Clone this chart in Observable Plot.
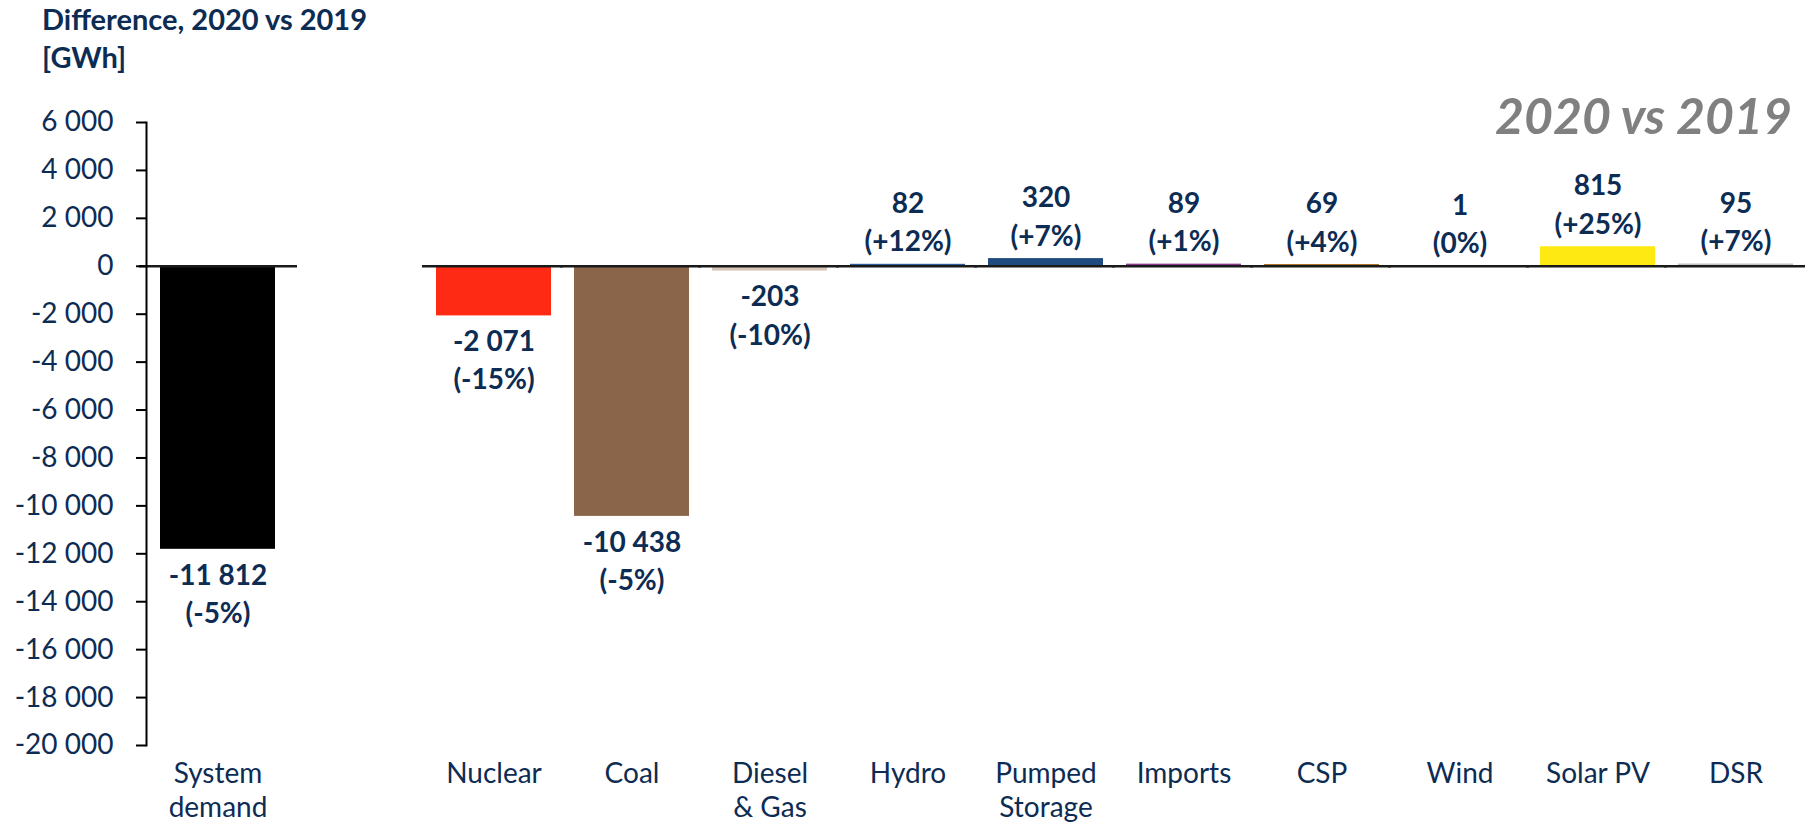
<!DOCTYPE html>
<html>
<head>
<meta charset="utf-8">
<script src="https://cdn.jsdelivr.net/npm/d3@7"></script>
<script src="https://cdn.jsdelivr.net/npm/@observablehq/plot@0.6"></script>
<style>
  html, body { margin: 0; padding: 0; background: #fff; }
  #wrap { position: relative; width: 1808px; height: 829px; overflow: hidden; font-family: Lato, "Open Sans", sans-serif; }
  #title { padding-left: 42px; height: 76px; font-size: 29px; line-height: 38px; font-weight: 700; color: #0d2c54; }
  #badge { position: absolute; right: 16px; top: 90px; font-size: 50px; line-height: 50px; font-weight: 700; font-style: italic; color: #808080; }
</style>
</head>
<body>
<div id="wrap">
  <div id="title">Difference, 2020 vs 2019<br>[GWh]</div>
  <div id="badge">2020 vs 2019</div>
  <div id="chart"></div>
</div>
<script>
// Categories (with an empty spacer slot between System demand and the generation sources)
const categories = ["System demand", "gap", "Nuclear", "Coal", "Diesel & Gas", "Hydro", "Pumped Storage", "Imports", "CSP", "Wind", "Solar PV", "DSR"];
const categoryLabels = ["System\ndemand", "", "Nuclear", "Coal", "Diesel\n& Gas", "Hydro", "Pumped\nStorage", "Imports", "CSP", "Wind", "Solar PV", "DSR"];
const barCategories = ["System demand", "Nuclear", "Coal", "Diesel & Gas", "Hydro", "Pumped Storage", "Imports", "CSP", "Wind", "Solar PV", "DSR"];
const differences = [-11812, -2071, -10438, -203, 82, 320, 89, 69, 1, 815, 95];
const percentLabels = ["-5%", "-15%", "-5%", "-10%", "+12%", "+7%", "+1%", "+4%", "0%", "+25%", "+7%"];
const barColors = ["#000000", "#ff2a14", "#8a654a", "#d7c6ba", "#2e5c9a", "#1f4a80", "#8e3a8e", "#a0600a", "#5b9bd5", "#ffe912", "#c0c0c0"];
const yTicks = [6000, 4000, 2000, 0, -2000, -4000, -6000, -8000, -10000, -12000, -14000, -16000, -18000, -20000];

const navy = "#0d2c54";
const fmt = v => (v < 0 ? "-" : "") + d3.format(",")(Math.abs(v)).replace(/,/g, " ");

const data = barCategories.map((c, i) => ({
  cat: c, value: differences[i], pct: percentLabels[i], color: barColors[i],
  label: fmt(differences[i]) + "\n(" + percentLabels[i] + ")"
}));
const neg = data.filter(d => d.value < 0);
const pos = data.filter(d => d.value >= 0);
const labelMap = new Map(categories.map((c, i) => [c, categoryLabels[i]]));

const chart = Plot.plot({
  width: 1808,
  height: 753,
  marginTop: 46,
  marginBottom: 84,
  marginLeft: 146,
  marginRight: 0,
  style: { fontFamily: "Lato, 'Open Sans', sans-serif", background: "#fff" },
  x: { type: "band", domain: categories, paddingInner: 0.164, paddingOuter: 0.08 },
  y: { domain: [-20000, 6000] },
  marks: [
    Plot.barY(data, { x: "cat", y: "value", fill: "color" }),
    Plot.tickY([0], { x: () => "System demand", y: d => d, stroke: "#1a1a1a", strokeWidth: 2.5, insetLeft: -21, insetRight: -22 }),
    Plot.tickY(barCategories.slice(1), { x: d => d, y: () => 0, stroke: "#1a1a1a", strokeWidth: 2.5, insetLeft: -14, insetRight: -12 }),
    Plot.frame({ anchor: "left", stroke: "#000", strokeWidth: 2 }),
    Plot.axisY({ ticks: yTicks, tickFormat: fmt, tickSize: 10, tickPadding: 23, fontSize: 28, color: navy, stroke: "#000", strokeWidth: 2, label: null }),
    Plot.axisX({ tickSize: 0, tickPadding: 13, fontSize: 28, color: navy, label: null, tickFormat: c => labelMap.get(c), lineHeight: 1.22 }),
    Plot.text(neg, { x: "cat", y: "value", text: "label", lineAnchor: "top", dy: 8, fontSize: 28, fontWeight: 700, fill: navy, lineHeight: 1.37 }),
    Plot.text(pos, { x: "cat", y: "value", text: "label", lineAnchor: "bottom", dy: -13, fontSize: 28, fontWeight: 700, fill: navy, lineHeight: 1.37 })
  ]
});
document.getElementById("chart").appendChild(chart);
</script>
</body>
</html>
